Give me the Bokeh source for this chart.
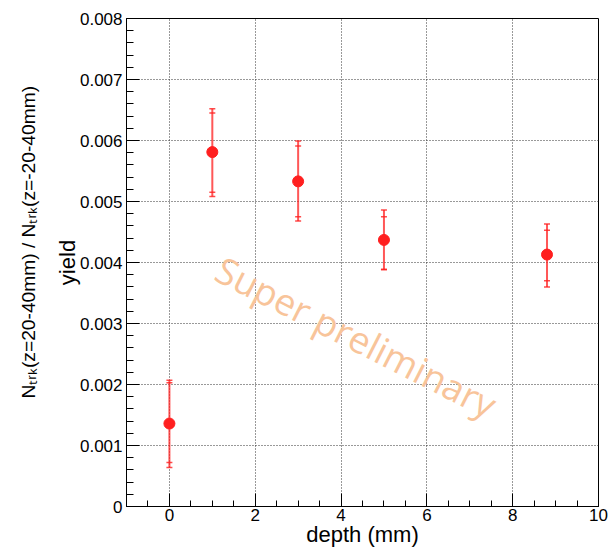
from bokeh.plotting import figure
from bokeh.models import FixedTicker, Label, Whisker, TeeHead, ColumnDataSource, Range1d, Title
from bokeh.embed import file_html
from bokeh.resources import INLINE

# ---- data ----
depth = [0.0, 1.0, 3.0, 5.0, 8.8]
yield_val = [0.00136, 0.00581, 0.00533, 0.00437, 0.00413]
stat_lo = [0.00072, 0.00515, 0.00475, 0.00389, 0.00370]
stat_hi = [0.00203, 0.00645, 0.00591, 0.00475, 0.00453]
tot_lo = [0.00064, 0.00508, 0.00468, 0.00388, 0.00360]
tot_hi = [0.00207, 0.00652, 0.00599, 0.00486, 0.00463]

x_ticks = [0, 2, 4, 6, 8, 10]
y_ticks = [0, 0.001, 0.002, 0.003, 0.004, 0.005, 0.006, 0.007, 0.008]
y_tick_labels = ["0", "0.001", "0.002", "0.003", "0.004", "0.005", "0.006", "0.007", "0.008"]

x_title = "depth (mm)"
y_title = "yield"
ratio_title = "N\u209c\u1d63\u2096(z=20-40mm) / N\u209c\u1d63\u2096(z=-20-40mm)"
watermark = "Super preliminary"

X0, X1 = -1.0, 10.0
Y0, Y1 = 0.0, 0.008

FONT = "Liberation Sans"
RED = "#ff1f1f"

p = figure(width=611, height=549, x_range=Range1d(X0, X1), y_range=Range1d(Y0, Y1),
           output_backend="svg", toolbar_location=None,
           min_border_left=126, min_border_right=13, min_border_top=18, min_border_bottom=43)
p.background_fill_color = "white"
p.border_fill_color = "white"
p.outline_line_color = "black"
p.outline_line_width = 1

x_minor = [X0 + 0.5 * i for i in range(int((X1 - X0) / 0.5) + 1)]
y_minor = [round(0.0002 * i, 6) for i in range(41)]

p.xaxis.ticker = FixedTicker(ticks=x_ticks, minor_ticks=x_minor)
p.yaxis.ticker = FixedTicker(ticks=y_ticks, minor_ticks=y_minor)
p.yaxis.major_label_overrides = {t: s for t, s in zip(y_ticks, y_tick_labels)}

for ax in (p.xaxis[0], p.yaxis[0]):
    ax.major_tick_in = 13
    ax.major_tick_out = 0
    ax.minor_tick_in = 7
    ax.minor_tick_out = 0
    ax.axis_line_color = "black"
    ax.major_tick_line_color = "black"
    ax.minor_tick_line_color = "black"
    ax.major_label_text_font = FONT
    ax.major_label_text_font_size = "17px"
    ax.major_label_text_color = "black"
    ax.axis_label_text_font = FONT
    ax.axis_label_text_font_size = "22px"
    ax.axis_label_text_font_style = "normal"
    ax.axis_label_text_color = "black"
p.xaxis.minor_tick_in = 6
p.xaxis.major_label_standoff = 2
p.yaxis.major_label_standoff = 4
p.xaxis.axis_label = x_title
p.yaxis.axis_label = y_title
p.xaxis.axis_label_standoff = -2
p.yaxis.axis_label_standoff = -3

p.grid.grid_line_color = "#333333"
p.grid.grid_line_dash = "1 2"
p.grid.grid_line_width = 1

src = ColumnDataSource(dict(x=depth, y=yield_val, slo=stat_lo, shi=stat_hi, tlo=tot_lo, thi=tot_hi))

outer = Whisker(base="x", lower="tlo", upper="thi", source=src,
                line_color=RED, line_alpha=0.75, line_width=2,
                upper_head=TeeHead(size=6, line_color=RED, line_alpha=0.8, line_width=1.5),
                lower_head=TeeHead(size=6, line_color=RED, line_alpha=0.8, line_width=1.5),
                level="underlay")
inner = Whisker(base="x", lower="slo", upper="shi", source=src,
                line_color=RED, line_alpha=0.0, line_width=2,
                upper_head=TeeHead(size=6, line_color=RED, line_alpha=0.8, line_width=1.5),
                lower_head=TeeHead(size=6, line_color=RED, line_alpha=0.8, line_width=1.5),
                level="underlay")
p.add_layout(outer)
p.add_layout(inner)
p.scatter("x", "y", source=src, size=11, color=RED, line_color=RED)

# second (outer) y title with subscripts
p.add_layout(Title(text=ratio_title, align="left", offset=108, standoff=25,
                   text_font=FONT, text_font_size="19.2px", text_font_style="normal",
                   text_color="black"), "left")

# watermark, placed relative to the frame
FL, FR, FT, FB = 126.0, 598.0, 18.0, 506.0
def xd(px):
    return X0 + (px - FL) / (FR - FL) * (X1 - X0)
def yd(py):
    return Y0 + (FB - py) / (FB - FT) * (Y1 - Y0)

p.add_layout(Label(x=xd(356), y=yd(336), text=watermark, angle=-27, angle_units="deg",
                   text_align="center", text_baseline="middle", text_font="Open Sans",
                   text_font_size="37px", text_color="#f8c49a"))

open("out.html", "w").write(file_html(p, INLINE))
